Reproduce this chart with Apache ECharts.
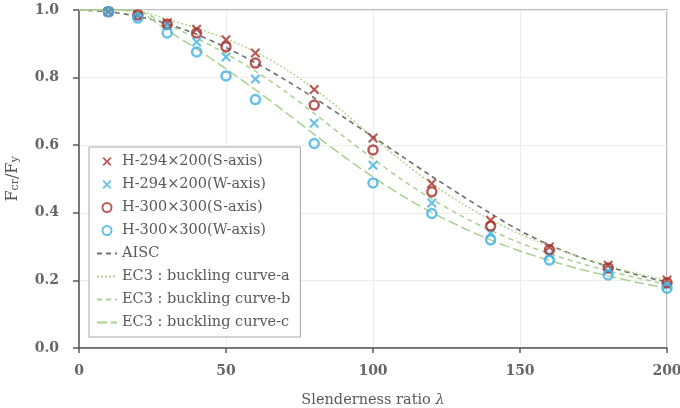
<!DOCTYPE html>
<html>
<head>
<meta charset="utf-8">
<script src="https://cdn.jsdelivr.net/npm/echarts@6/dist/echarts.min.js"></script>
<style>
  html, body { margin: 0; padding: 0; background: #fff; }
  #chart { width: 680px; height: 408px; }
</style>
</head>
<body>
<div id="chart"></div>
<script>
// test points (slenderness ratio)
const lambdaPts = [10, 20, 30, 40, 50, 60, 80, 100, 120, 140, 160, 180, 200];
const h294S = [0.995, 0.985, 0.962, 0.943, 0.912, 0.873, 0.765, 0.621, 0.487, 0.378, 0.299, 0.245, 0.201];
const h294W = [0.995, 0.983, 0.955, 0.905, 0.861, 0.796, 0.665, 0.541, 0.429, 0.340, 0.276, 0.228, 0.185];
const h300S = [0.995, 0.985, 0.958, 0.932, 0.891, 0.843, 0.719, 0.586, 0.462, 0.361, 0.290, 0.237, 0.193];
const h300W = [0.995, 0.976, 0.932, 0.876, 0.805, 0.735, 0.605, 0.488, 0.398, 0.320, 0.260, 0.216, 0.177];

// design curves
const lambdaCurve = [0, 10, 20, 30, 40, 50, 60, 70, 80, 90, 100, 110, 120, 130, 140, 150, 160, 170, 180, 190, 200];
const aisc = [1.000, 0.995, 0.981, 0.959, 0.928, 0.889, 0.844, 0.794, 0.740, 0.683, 0.625, 0.566, 0.508, 0.452, 0.398, 0.347, 0.305, 0.270, 0.241, 0.216, 0.195];
const ec3a = [1.000, 1.000, 0.997, 0.973, 0.946, 0.915, 0.876, 0.827, 0.767, 0.698, 0.624, 0.552, 0.486, 0.429, 0.379, 0.337, 0.301, 0.270, 0.243, 0.220, 0.200];
const ec3b = [1.000, 1.000, 0.996, 0.958, 0.916, 0.871, 0.819, 0.760, 0.694, 0.626, 0.560, 0.497, 0.441, 0.391, 0.348, 0.311, 0.279, 0.252, 0.228, 0.207, 0.189];
const ec3c = [1.000, 1.000, 0.994, 0.940, 0.885, 0.826, 0.764, 0.699, 0.632, 0.567, 0.506, 0.450, 0.401, 0.358, 0.320, 0.287, 0.259, 0.234, 0.213, 0.194, 0.177];

const yTicks = [0, 0.2, 0.4, 0.6, 0.8, 1.0];

const pair = (xs, ys) => xs.map((x, i) => [x, ys[i]]);

const RED = '#A8322F';
const CYAN = '#3FB2E3';
const GREY = '#595959';
const FONT = 'DejaVu Serif';
const CROSS = 'path://M0,1.5 L1.5,0 L5,3.5 L8.5,0 L10,1.5 L6.5,5 L10,8.5 L8.5,10 L5,6.5 L1.5,10 L0,8.5 L3.5,5 Z';

const chart = echarts.init(document.getElementById('chart'));

// legend entries for line series: line only, no symbol
const lineEntry = name => ({ name: name, itemStyle: { opacity: 0 } });

const option = {
  animation: false,
  textStyle: { fontFamily: FONT },
  grid: {
    left: 79, right: 13, top: 10, bottom: 60,
    outerBoundsMode: 'none',
    show: true, borderColor: '#a6a6a6', borderWidth: 1.5
  },
  legend: {
    orient: 'vertical',
    left: 89, top: 147,
    padding: [7, 10, 7, 7],
    itemGap: 8,
    itemWidth: 20, itemHeight: 9,
    borderColor: '#a6a6a6', borderWidth: 1,
    backgroundColor: '#fff',
    textStyle: { fontFamily: FONT, fontSize: 14.5, color: GREY },
    data: ['H-294×200(S-axis)', 'H-294×200(W-axis)', 'H-300×300(S-axis)', 'H-300×300(W-axis)',
      lineEntry('AISC'), lineEntry('EC3 : buckling curve-a'), lineEntry('EC3 : buckling curve-b'), lineEntry('EC3 : buckling curve-c')]
  },
  xAxis: {
    type: 'value', min: 0, max: 200, interval: 50,
    name: 'Slenderness ratio {i|λ}',
    nameLocation: 'middle', nameGap: 45,
    nameTextStyle: { fontFamily: FONT, fontSize: 14.5, color: GREY, rich: { i: { fontFamily: FONT, fontSize: 14.5, fontStyle: 'italic', color: GREY } } },
    axisLine: { lineStyle: { color: GREY, width: 1.5 } },
    axisTick: { show: true, length: 5, lineStyle: { color: GREY, width: 1.5 } },
    axisLabel: { fontFamily: FONT, fontSize: 14, fontWeight: 'bold', color: '#666', margin: 16 },
    splitLine: { show: true, lineStyle: { color: '#ededed', width: 1 } }
  },
  yAxis: {
    type: 'value', min: 0, max: 1, interval: 0.2,
    name: '{a|F}{b|cr}{a|/F}{b|y}',
    nameLocation: 'middle', nameGap: 58, nameRotate: 90,
    nameTextStyle: {
      color: GREY,
      rich: {
        a: { fontFamily: FONT, fontSize: 16, color: GREY, lineHeight: 20, verticalAlign: 'bottom' },
        b: { fontFamily: FONT, fontSize: 11, color: GREY, lineHeight: 14, verticalAlign: 'bottom' }
      }
    },
    axisLine: { show: true, lineStyle: { color: GREY, width: 1.5 } },
    axisTick: { show: true, length: 6, lineStyle: { color: GREY, width: 1.5 } },
    axisLabel: {
      fontFamily: FONT, fontSize: 14, fontWeight: 'bold', color: '#666', margin: 20,
      formatter: v => yTicks.includes(Math.round(v * 10) / 10) ? v.toFixed(1) : ''
    },
    splitLine: { show: true, lineStyle: { color: '#ededed', width: 1 } }
  },
  series: [
    {
      name: 'AISC', type: 'line', data: pair(lambdaCurve, aisc), smooth: 0.3,
      symbol: 'none', lineStyle: { color: '#6e6e6e', width: 1.6, type: [5, 4] }, itemStyle: { color: '#6e6e6e' }, z: 2
    },
    {
      name: 'EC3 : buckling curve-a', type: 'line', data: pair(lambdaCurve, ec3a), smooth: 0.3,
      symbol: 'none', lineStyle: { color: '#b6d48c', width: 1.5, type: [2, 2] }, itemStyle: { color: '#b6d48c' }, z: 2
    },
    {
      name: 'EC3 : buckling curve-b', type: 'line', data: pair(lambdaCurve, ec3b), smooth: 0.3,
      symbol: 'none', lineStyle: { color: '#a9d08e', width: 1.5, type: [5, 4] }, itemStyle: { color: '#a9d08e' }, z: 2
    },
    {
      name: 'EC3 : buckling curve-c', type: 'line', data: pair(lambdaCurve, ec3c), smooth: 0.3,
      symbol: 'none', lineStyle: { color: '#a9d08e', width: 1.5, type: [10, 4] }, itemStyle: { color: '#a9d08e' }, z: 2
    },
    {
      name: 'H-294×200(S-axis)', type: 'scatter', data: pair(lambdaPts, h294S),
      symbol: CROSS, symbolSize: 10, itemStyle: { color: RED }, z: 5
    },
    {
      name: 'H-294×200(W-axis)', type: 'scatter', data: pair(lambdaPts, h294W),
      symbol: CROSS, symbolSize: 10, itemStyle: { color: CYAN }, z: 5
    },
    {
      name: 'H-300×300(S-axis)', type: 'scatter', data: pair(lambdaPts, h300S),
      symbol: 'circle', symbolSize: 9, itemStyle: { color: 'rgba(255,255,255,0)', borderColor: RED, borderWidth: 2.5 }, z: 5
    },
    {
      name: 'H-300×300(W-axis)', type: 'scatter', data: pair(lambdaPts, h300W),
      symbol: 'circle', symbolSize: 9, itemStyle: { color: 'rgba(255,255,255,0)', borderColor: CYAN, borderWidth: 2.5 }, z: 5
    }
  ]
};

chart.setOption(option);
</script>
</body>
</html>
